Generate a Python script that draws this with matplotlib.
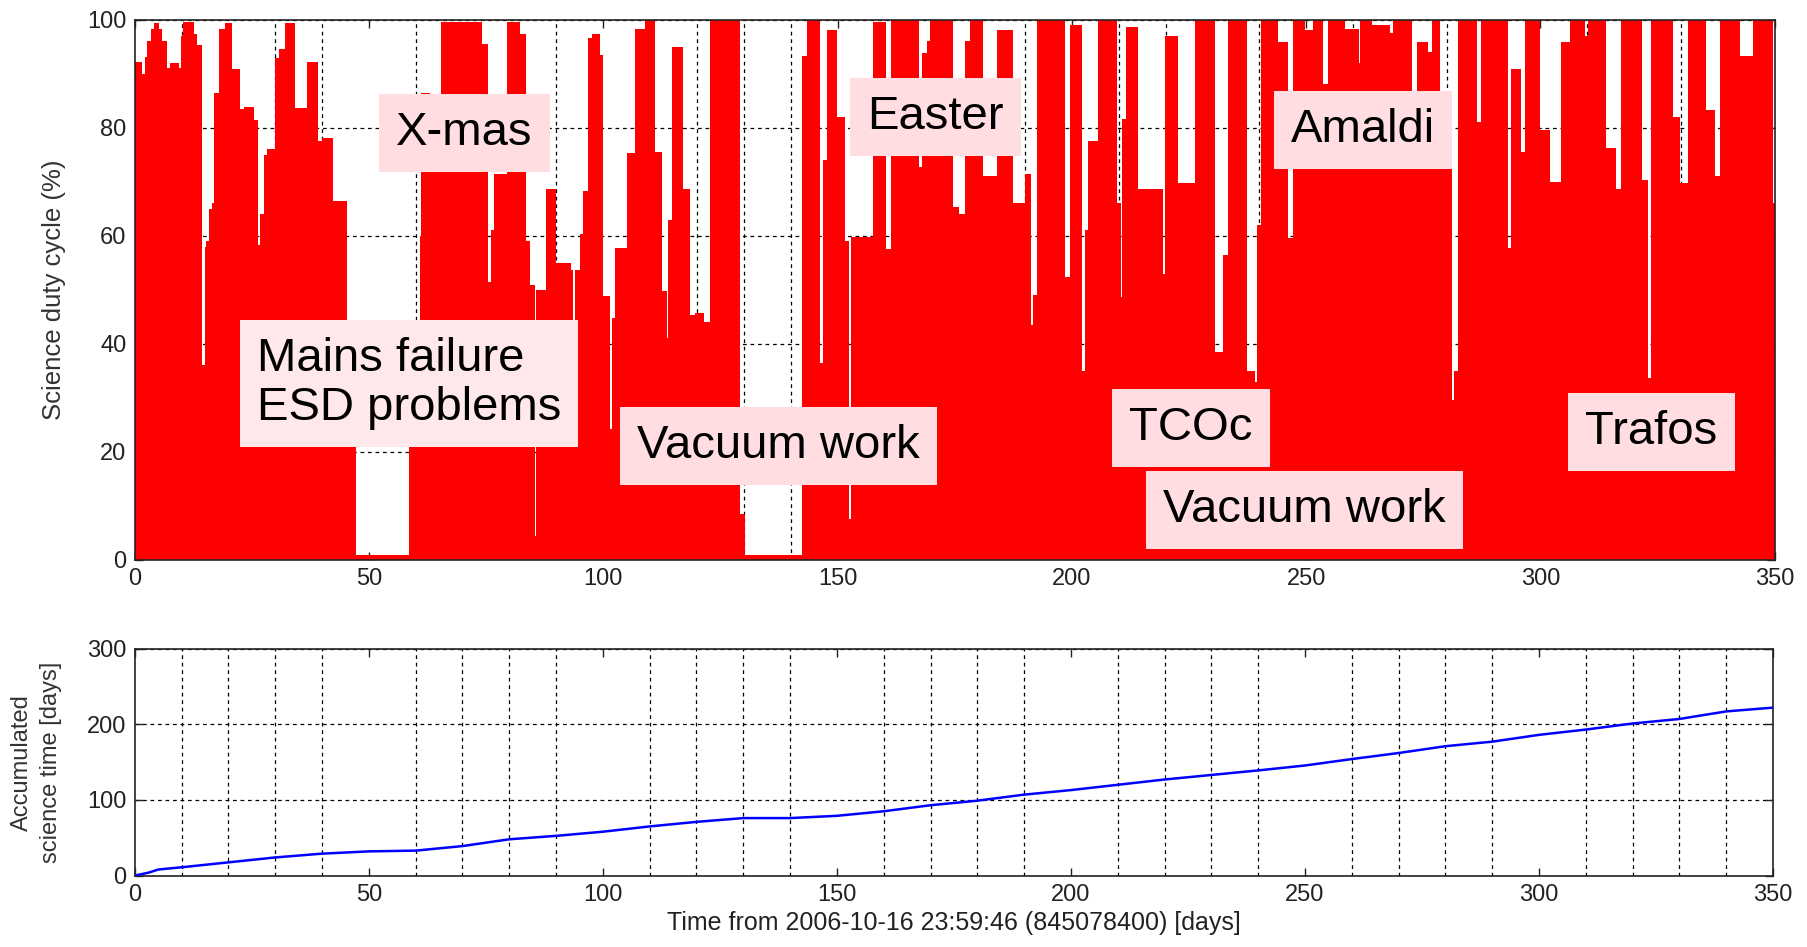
import matplotlib
matplotlib.use('Agg')  # no display in the sandbox
import matplotlib.pyplot as plt
from matplotlib.ticker import MultipleLocator

# Science duty cycle, step function: start day of each step and its level (%)
duty_start = [0, 1.6, 2.1, 2.7, 3.4, 4.1, 5.2, 5.9, 6.9, 7.6, 9.4, 9.8, 10.3, 12.6, 13.3,
              14.4, 14.9, 15.3, 15.8, 16.5, 16.9, 17.9, 19.3, 20.8, 22.5, 23.2, 25.4, 26.4,
              26.8, 27.5, 28.2, 30.0, 30.7, 32.1, 34.2, 36.7, 39.2, 39.9, 42.4, 45.2, 47.3,
              58.6, 60.8, 61.1, 62.9, 65.4, 74.2, 75.3, 76.0, 76.6, 79.4, 82.3, 83.5, 84.4,
              85.4, 85.7, 87.8, 90.0, 93.2, 93.6, 93.9, 95.0, 95.7, 96.8, 97.5, 99.3, 100.0,
              101.4, 101.8, 102.5, 105.0, 106.8, 108.9, 111.0, 112.5, 113.5, 113.9, 114.6,
              117.1, 118.5, 119.6, 121.4, 122.8, 129.2, 130.3, 142.4, 143.4, 146.3, 146.9,
              147.7, 149.9, 151.6, 152.4, 152.8, 157.6, 160.3, 161.5, 167.3, 168.0, 169.0,
              169.7, 174.6, 175.9, 177.1, 178.3, 181.0, 184.0, 187.5, 190.0, 191.3, 191.8,
              192.5, 198.5, 199.6, 202.1, 202.7, 203.5, 205.6, 209.6, 210.4, 210.7, 211.5,
              214.2, 219.5, 219.9, 222.7, 226.3, 230.5, 232.3, 233.4, 237.3, 239.1, 239.6,
              240.3, 244.0, 246.2, 247.3, 249.7, 251.5, 253.7, 254.6, 258.3, 261.2, 261.6,
              264.1, 267.8, 268.6, 272.5, 273.6, 276.1, 276.8, 278.5, 281.2, 281.6, 282.5,
              286.4, 287.4, 293.1, 293.8, 295.9, 296.7, 299.9, 302.0, 304.5, 306.3, 309.5,
              310.2, 314.1, 316.2, 317.3, 321.6, 323.0, 323.7, 328.3, 329.7, 331.5, 335.4,
              337.2, 338.3, 342.5, 345.4, 349.7]
duty_pct = [92.2, 90.0, 93.0, 96.0, 98.3, 99.3, 98.3, 96.0, 91.0, 92.0, 91.0, 97.0, 99.5, 97.3, 95.3,
            36.0, 58.0, 59.0, 65.0, 66.0, 86.4, 98.3, 99.3, 90.8, 83.4, 83.9, 81.4, 58.3,
            64.0, 75.0, 76.0, 92.9, 94.5, 99.3, 83.7, 92.2, 77.6, 78.0, 66.4, 40.0, 1.0,
            40.0, 60.0, 86.4, 80.0, 99.5, 95.5, 51.5, 61.0, 71.5, 99.5, 97.3, 59.0, 50.8,
            4.5, 50.0, 68.6, 55.0, 53.6, 24.0, 53.6, 60.4, 68.3, 96.6, 97.3, 93.5, 48.8,
            24.2, 44.7, 57.7, 75.4, 98.3, 100.0, 75.5, 49.8, 41.0, 63.0, 94.9,
            68.6, 45.4, 45.7, 44.0, 100.0, 8.5, 1.0, 93.2, 100.0, 36.5, 74.0,
            98.0, 82.0, 59.0, 7.5, 59.7, 99.6, 57.5, 100.0, 72.8, 93.8, 96.0,
            100.0, 65.4, 64.0, 96.0, 100.0, 71.0, 98.0, 66.0, 71.4, 43.5, 49.0,
            100.0, 52.4, 99.0, 35.0, 61.0, 77.6, 100.0, 66.0, 48.6, 81.6, 98.6,
            68.6, 53.0, 97.0, 69.7, 100.0, 38.4, 56.5, 100.0, 35.0, 33.0, 62.0,
            100.0, 95.9, 59.5, 100.0, 98.0, 100.0, 88.0, 100.0, 98.3, 92.0, 100.0,
            99.0, 97.5, 100.0, 80.0, 95.9, 94.0, 100.0, 85.0, 29.6, 35.0, 100.0,
            81.0, 100.0, 57.8, 90.8, 75.5, 100.0, 79.6, 70.0, 95.9, 100.0, 97.0,
            100.0, 76.2, 68.7, 100.0, 70.4, 33.7, 100.0, 82.0, 69.7, 100.0, 83.3,
            71.0, 100.0, 93.2, 100.0, 66.0]
last_day = 350

# Accumulated science time [days], read every 10 days
acc_day = [0, 3, 5, 10, 20, 30, 40, 50, 60, 70, 80, 90, 100, 110, 120, 130, 140, 150, 160,
           170, 180, 190, 200, 210, 220, 230, 240, 250, 260, 270, 280, 290, 300, 310, 320,
           330, 340, 350]
acc_days = [0, 4, 8, 11, 17.5, 24, 29, 32, 33, 39, 48, 52.5, 58, 65, 71, 76, 76, 79, 85,
            93, 99, 107, 113, 120, 127, 133, 139, 145.5, 154, 162, 171, 177, 186, 193, 201,
            207, 217, 222]

# Event labels: text, centre day, centre level (%)
events = ['X-mas', 'Easter', 'Amaldi', 'Mains failure\nESD problems', 'Vacuum work',
          'TCOc', 'Vacuum work', 'Trafos']
event_day = [70.4, 170.9, 262.2, 58.5, 137.4, 225.4, 249.6, 323.7]
event_pct = [79.1, 81.9, 79.5, 32.6, 21.0, 24.4, 9.2, 23.7]

label_font = ['Liberation Sans', 'DejaVu Sans']
grid_kw = dict(color='black', linestyle=(0, (3, 3)), linewidth=0.9)


def matlab_axes(ax):
    """Box with inward ticks on all four sides, like the MATLAB default."""
    ax.tick_params(which='major', direction='in', top=True, right=True, length=6,
                   width=1, labelsize=17, pad=6, colors='#222222')
    ax.tick_params(which='minor', length=0, top=True, right=True)
    for lab in ax.get_xticklabels() + ax.get_yticklabels():
        lab.set_family(label_font)
    for sp in ax.spines.values():
        sp.set_linewidth(1.2)
        sp.set_color('#222222')


fig = plt.figure(figsize=(18.07, 9.47), dpi=100)

# top panel: duty cycle
ax1 = fig.add_axes([0.0746, 0.4087, 0.9075, 0.5706])
x = duty_start + [last_day]
y = duty_pct + [duty_pct[-1]]
ax1.fill_between(x, 0, y, step='post', color='#ff0000', linewidth=0, zorder=2)
ax1.set_xlim(0, 350)
ax1.set_ylim(0, 100)
ax1.xaxis.set_major_locator(MultipleLocator(50))
ax1.xaxis.set_minor_locator(MultipleLocator(10))
ax1.yaxis.set_major_locator(MultipleLocator(20))
ax1.set_axisbelow(True)
ax1.grid(True, which='minor', axis='x', **grid_kw)
ax1.grid(True, which='major', axis='y', **grid_kw)
ax1.set_ylabel('Science duty cycle (%)', fontsize=18.5, family=label_font,
               color='#333333', labelpad=15)
matlab_axes(ax1)

for txt, d, p in zip(events, event_day, event_pct):
    light = '#ffe8ea' if '\n' in txt else '#ffdde0'
    ax1.text(d, p, txt, ha='center', va='center', multialignment='left',
             fontsize=34, family=label_font, color='black', zorder=5,
             linespacing=1.15,
             bbox=dict(boxstyle='square,pad=0.36', facecolor=light, edgecolor='none'))

# bottom panel: accumulated science time
ax2 = fig.add_axes([0.0746, 0.0754, 0.9066, 0.2397])
ax2.plot(acc_day, acc_days, color='#0000ff', linewidth=1.8, zorder=3)
ax2.set_xlim(0, 350)
ax2.set_ylim(0, 300)
ax2.xaxis.set_major_locator(MultipleLocator(50))
ax2.xaxis.set_minor_locator(MultipleLocator(10))
ax2.yaxis.set_major_locator(MultipleLocator(100))
ax2.set_axisbelow(True)
ax2.grid(True, which='minor', axis='x', **grid_kw)
ax2.grid(True, which='major', axis='y', **grid_kw)
ax2.set_ylabel('Accumulated\nscience time [days]', fontsize=17, family=label_font,
               color='#333333', labelpad=18, linespacing=1.4)
ax2.set_xlabel('Time from 2006-10-16 23:59:46 (845078400) [days]', fontsize=18,
               family=label_font, color='#222222', labelpad=4)
matlab_axes(ax2)

fig.savefig('out.png', dpi=100, facecolor='white')
